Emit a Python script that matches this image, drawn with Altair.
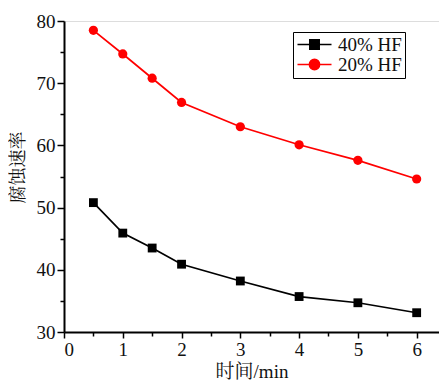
import altair as alt
import pandas as pd

times = [0.5, 1, 1.5, 2, 3, 4, 5, 6]
hf40 = [50.8, 45.9, 43.5, 40.9, 38.2, 35.7, 34.7, 33.1]
hf20 = [78.5, 74.7, 70.8, 66.9, 63.0, 60.1, 57.6, 54.6]
series_names = ["40% HF", "20% HF"]
series_colors = ["#000000", "#ff0000"]
x_ticks = [0, 1, 2, 3, 4, 5, 6]
x_minor = [0.5, 1.5, 2.5, 3.5, 4.5, 5.5]
y_ticks = [30, 40, 50, 60, 70, 80]
y_minor = [35, 45, 55, 65, 75]

rows = []
for t, v in zip(times, hf40):
    rows.append({"t": t, "v": v, "s": series_names[0]})
for t, v in zip(times, hf20):
    rows.append({"t": t, "v": v, "s": series_names[1]})
df = pd.DataFrame(rows)

FONT = "Liberation Serif, Noto Serif CJK SC, Noto Sans CJK SC"

xs = alt.Scale(domain=[0, 6.38], nice=False, zero=False)
ys = alt.Scale(domain=[30, 80], nice=False, zero=False)
cs = alt.Scale(domain=series_names, range=series_colors)

x_axis = alt.Axis(values=x_ticks, title="时间/min", grid=False, tickSize=6,
                  tickWidth=1.5, domainWidth=2, labelFontSize=19, titleFontSize=19,
                  titleFontWeight="normal", labelPadding=2, titlePadding=3,
                  labelFont=FONT, titleFont=FONT, labelColor="#111", titleColor="#111",
                  domainColor="#000", tickColor="#000", orient="bottom")
y_axis = alt.Axis(values=y_ticks, title="腐蚀速率", grid=False, tickSize=7,
                  tickWidth=1.5, domainWidth=2, labelFontSize=19, titleFontSize=18,
                  titleFontWeight="normal", labelPadding=2, titlePadding=9,
                  titleY=146,
                  labelFont=FONT, titleFont=FONT, labelColor="#111", titleColor="#111",
                  domainColor="#000", tickColor="#000", orient="left")

base = alt.Chart(df)

lines = base.mark_line(strokeWidth=1.7).encode(
    x=alt.X("t:Q", scale=xs, axis=x_axis),
    y=alt.Y("v:Q", scale=ys, axis=y_axis),
    color=alt.Color("s:N", scale=cs, legend=None),
    detail="s:N",
)

sq = base.transform_filter(alt.datum.s == series_names[0]).mark_point(
    shape="square", filled=True, size=78, opacity=1).encode(
    x=alt.X("t:Q", scale=xs, axis=None), y=alt.Y("v:Q", scale=ys, axis=None),
    color=alt.Color("s:N", scale=cs, legend=None))

ci = base.transform_filter(alt.datum.s == series_names[1]).mark_point(
    shape="circle", filled=True, size=85, opacity=1).encode(
    x=alt.X("t:Q", scale=xs, axis=None), y=alt.Y("v:Q", scale=ys, axis=None),
    color=alt.Color("s:N", scale=cs, legend=None))

sym_sq = "M-2,0H2M-0.55,-0.55H0.55V0.55H-0.55Z"
sym_ci = "M-2,0H2M0.6,0A0.6,0.6 0 1,1 -0.6,0A0.6,0.6 0 1,1 0.6,0Z"

legend_opts = dict(
    title=None, orient="none", legendX=229, legendY=11,
    symbolSize=289, symbolOpacity=1, symbolStrokeWidth=1.6,
    labelFont=FONT, labelFontSize=19, labelColor="#111",
    labelOffset=14, rowPadding=0, strokeColor="#000",
    padding=3, fillColor="white", symbolOffset=9)

leg = base.mark_point(filled=True, opacity=0, strokeWidth=1.6).encode(
    x=alt.X("t:Q", scale=xs, axis=None), y=alt.Y("v:Q", scale=ys, axis=None),
    color=alt.Color("s:N", scale=cs, legend=alt.Legend(**legend_opts)),
    stroke=alt.Stroke("s:N", scale=cs, legend=alt.Legend(**legend_opts)),
    shape=alt.Shape("s:N", scale=alt.Scale(domain=series_names, range=[sym_sq, sym_ci]),
                    legend=alt.Legend(**legend_opts)),
)

# minor ticks (axis decorations only)
minor_x = base.mark_point(opacity=0).encode(
    x=alt.X("t:Q", scale=xs, axis=alt.Axis(values=x_minor, labels=False, title=None,
            domain=False, grid=False, tickSize=4, tickWidth=1.5, tickColor="#000",
            orient="bottom")),
)
minor_y = base.mark_point(opacity=0).encode(
    y=alt.Y("v:Q", scale=ys, axis=alt.Axis(values=y_minor, labels=False, title=None,
            domain=False, grid=False, tickSize=4, tickWidth=1.5, tickColor="#000",
            orient="left")),
)

chart = alt.layer(lines, sq, ci, leg, minor_x, minor_y).resolve_axis(
    x="independent", y="independent"
).resolve_scale(
    color="independent", shape="independent", stroke="independent"
).resolve_legend(
    color="independent", shape="independent", stroke="independent"
).properties(
    width=375, height=311,
    autosize=alt.AutoSizeParams(type="none"),
    padding={"left": 56, "top": 13, "right": 0, "bottom": 50},
).configure_view(stroke=None).configure_legend(strokeWidth=2).configure(background="white")

chart.save("out.html", embed_options={"renderer": "svg", "actions": False})
